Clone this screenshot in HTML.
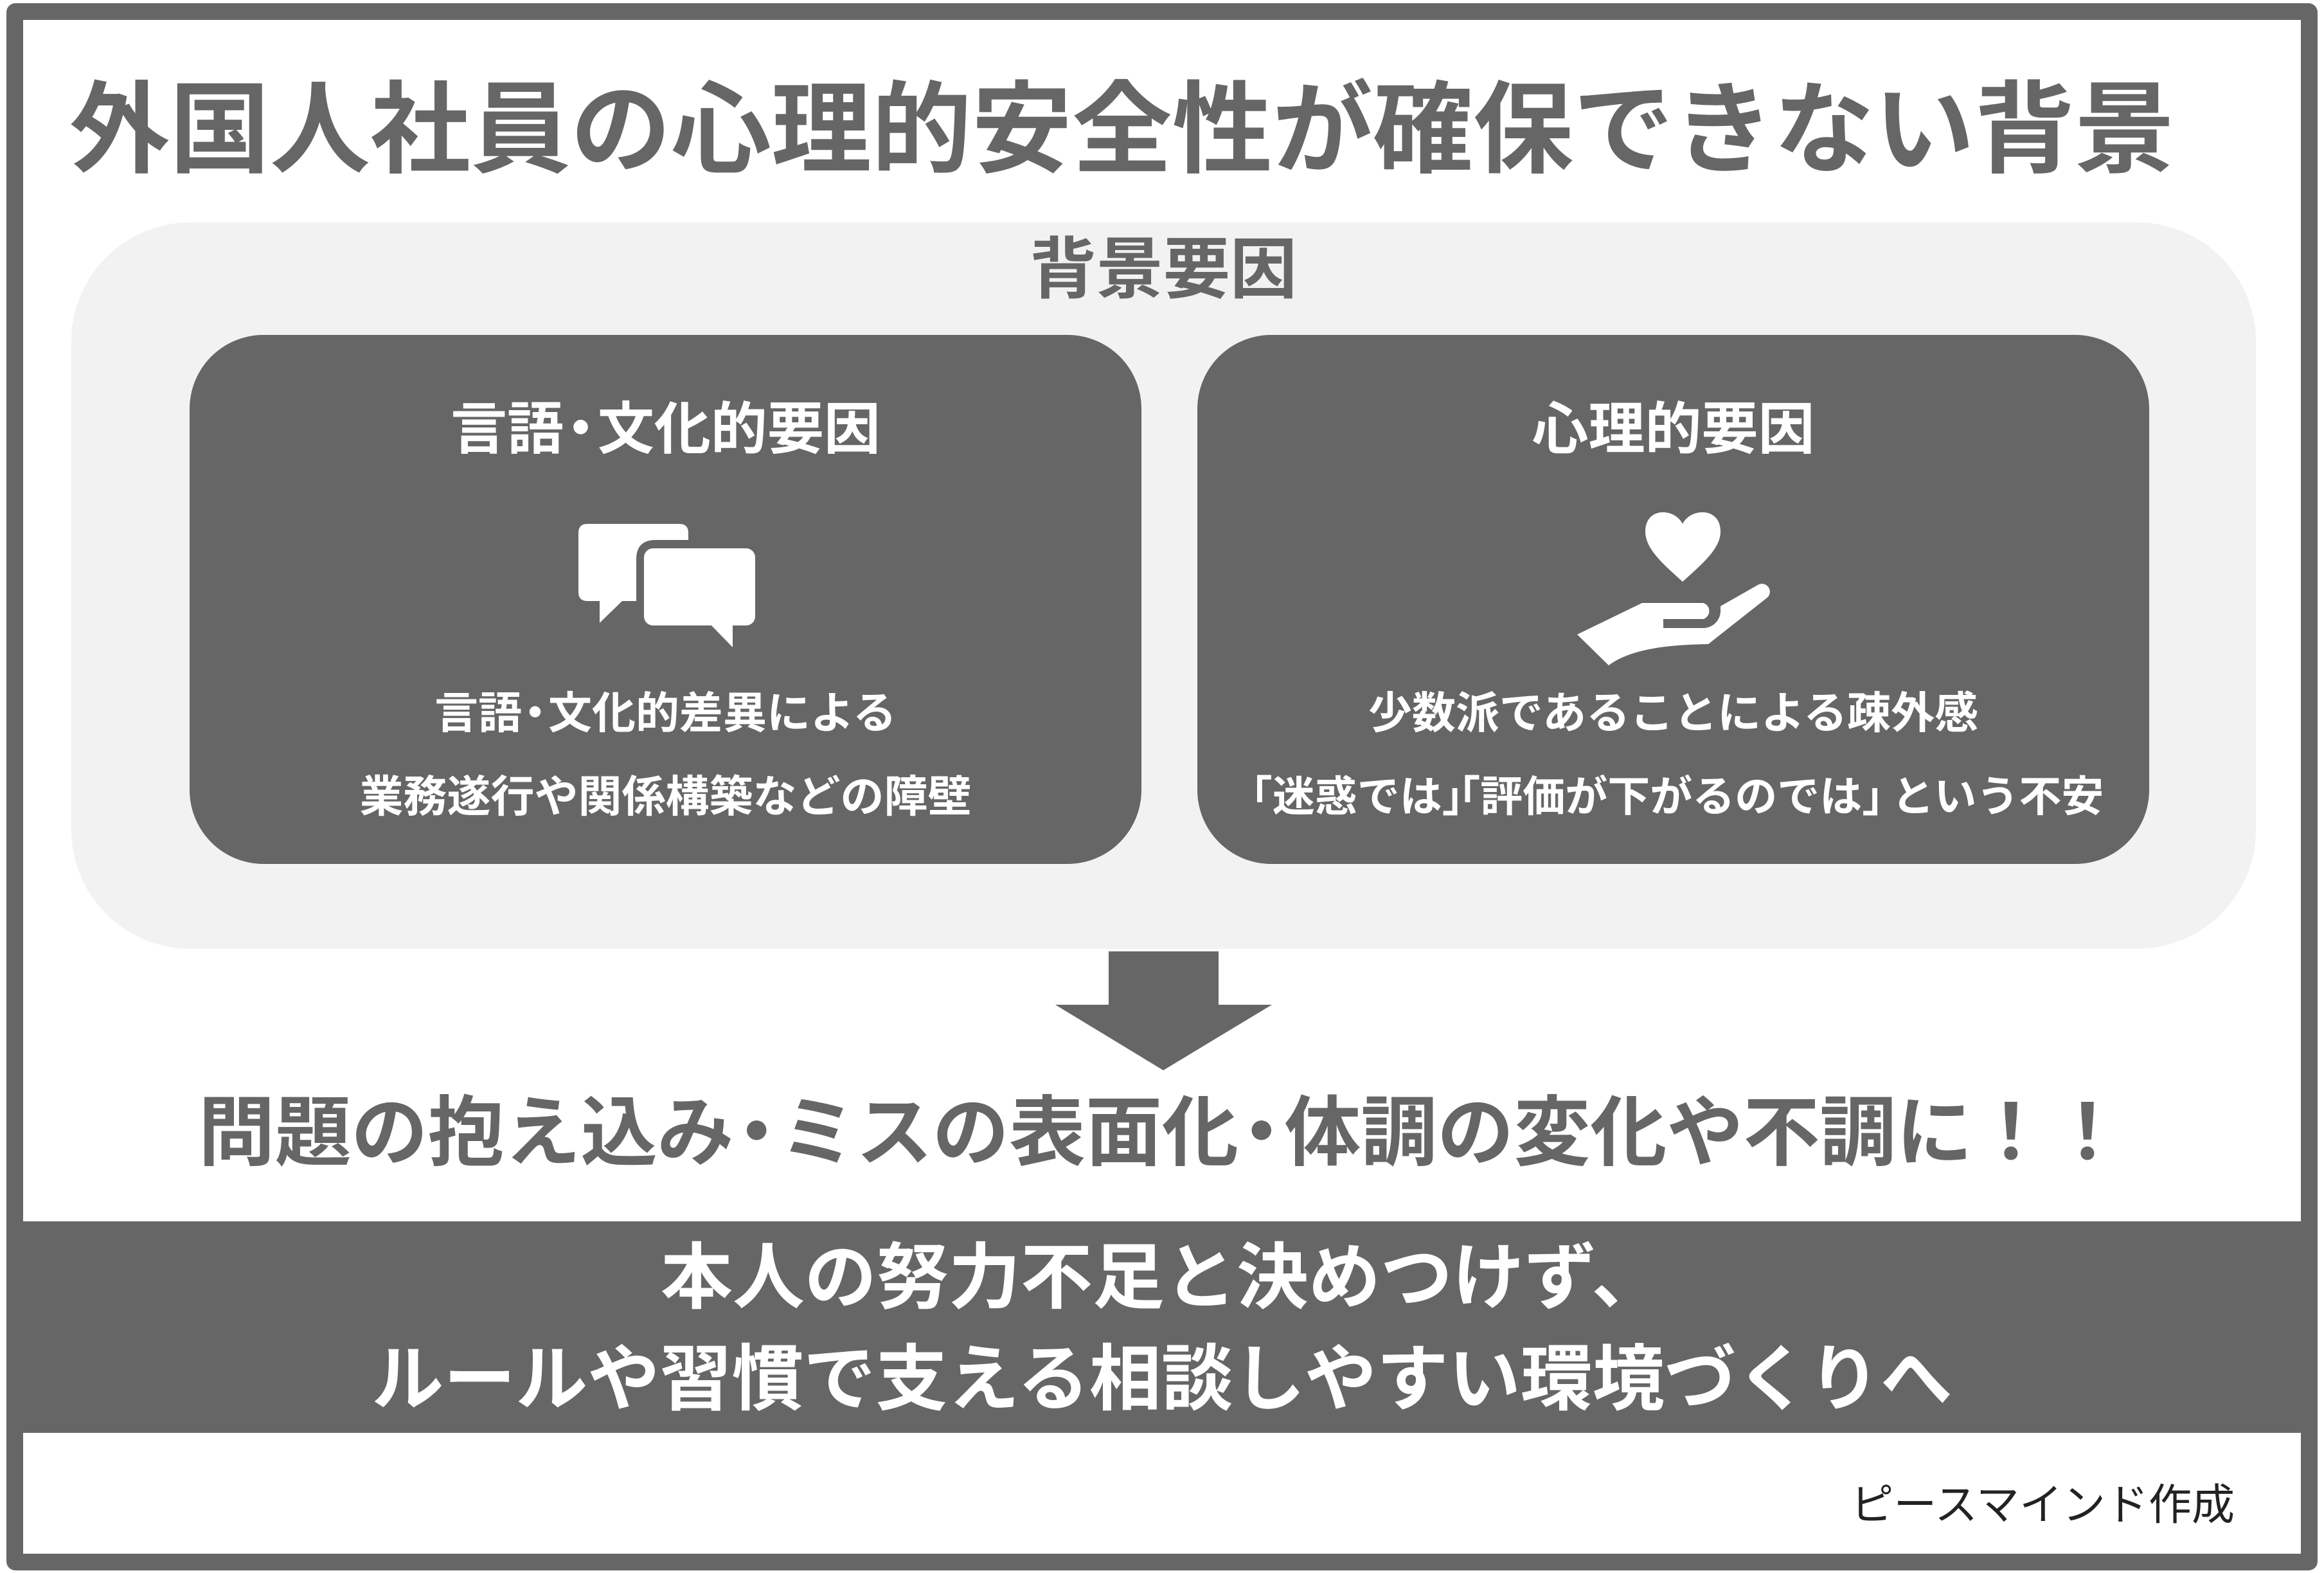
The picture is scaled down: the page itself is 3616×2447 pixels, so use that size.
<!DOCTYPE html>
<html><head><meta charset="utf-8"><style>
body{margin:0;width:3616px;height:2447px;background:#fff;position:relative;overflow:hidden;font-family:"Liberation Sans","Noto Sans CJK JP",sans-serif;}
.a{position:absolute;}
.t{position:absolute;white-space:nowrap;font-weight:bold;line-height:1;}
.ob{margin-left:-0.3em;}
.cb{margin-right:-0.3em;}
.d{margin:0 -0.2em;}
</style></head><body>
<div class="a" style="left:10px;top:5px;width:3544px;height:2386px;border:26px solid #666;border-radius:14px;"></div>
<div class="a" style="left:10px;top:1900px;width:3596px;height:329px;background:#666;"></div>
<div class="t" style="left:108px;top:125px;font-size:156px;color:#666;">外国人社員の心理的安全性が確保できない背景</div>
<div class="a" style="left:111px;top:346px;width:3399px;height:1130px;background:#f2f2f2;border-radius:185px;"></div>
<div class="t" style="left:0;width:3620px;text-align:center;top:368px;font-size:104px;color:#666;">背景要因</div>
<div class="a" style="left:295px;top:521px;width:1481px;height:823px;background:#666;border-radius:115px;"></div>
<div class="a" style="left:1863px;top:521px;width:1481px;height:823px;background:#666;border-radius:115px;"></div>
<div class="t" style="left:295px;width:1481px;text-align:center;top:624px;font-size:88px;color:#fff;">言語<span class="d">・</span>文化的要因</div>
<div class="t" style="left:1863px;width:1481px;text-align:center;top:624px;font-size:88px;color:#fff;">心理的要因</div>
<div class="t" style="left:295px;width:1481px;text-align:center;top:1076px;font-size:68px;color:#fff;">言語<span class="d">・</span>文化的差異による</div>
<div class="t" style="left:295px;width:1481px;text-align:center;top:1206px;font-size:68px;color:#fff;">業務遂行や関係構築などの障壁</div>
<div class="t" style="left:1863px;width:1481px;text-align:center;top:1076px;font-size:68px;color:#fff;">少数派であることによる疎外感</div>
<div class="t" style="left:1863px;width:1481px;text-align:center;top:1206px;font-size:66px;color:#fff;"><span class="ob">「</span>迷惑では<span class="cb">」</span><span class="ob">「</span>評価が下がるのでは<span class="cb">」</span>という不安</div>
<svg class="a" style="left:880px;top:780px" width="340" height="240" viewBox="0 0 340 240">
<path d="M32,35 H177 Q191,35 191,49 V60 H140 Q110,60 110,90 V155 H88 L53,189 V155 H34 Q20,155 20,141 V49 Q20,35 34,35 Z" fill="#fff"/>
<rect x="122" y="73" width="173" height="120" rx="14" fill="#fff"/>
<path d="M226,192 L260,227 V192 Z" fill="#fff"/>
</svg>
<svg class="a" style="left:2430px;top:770px" width="340" height="270" viewBox="0 0 340 270">
<path d="M188,45 C200,20 247,18 247,57 C247,85 215,110 188,135 C161,110 130,85 130,57 C130,18 176,20 188,45 Z" fill="#fff"/>
<path d="M24,217 L125,168 H220 A13,13 0 0 1 220,193 H158 V207 H220 A27,27 0 0 0 247,178 V173 L305,140 A12,12 0 0 1 318,161 L228,232 C170,233 110,238 73,265 Z" fill="#fff"/>
</svg>
<svg class="a" style="left:1640px;top:1478px" width="342" height="190" viewBox="0 0 342 190">
<polygon points="85,2 256,2 256,85 339,85 170,187 2,85 85,85" fill="#666"/>
</svg>
<div class="t" style="left:0;width:3616px;text-align:center;top:1703px;font-size:119px;color:#666;">問題の抱え込み<span class="d">・</span>ミスの表面化<span class="d">・</span>体調の変化や不調に！！</div>
<div class="t" style="left:0;width:3616px;text-align:center;top:1932px;font-size:112px;color:#fff;">本人の努力不足と決めつけず、</div>
<div class="t" style="left:0;width:3616px;text-align:center;top:2090px;font-size:112px;color:#fff;">ルールや習慣で支える相談しやすい環境づくりへ</div>
<div class="a" style="right:139px;top:2308px;font-size:67px;color:#222;white-space:nowrap;line-height:1;">ピースマインド作成</div>
</body></html>
